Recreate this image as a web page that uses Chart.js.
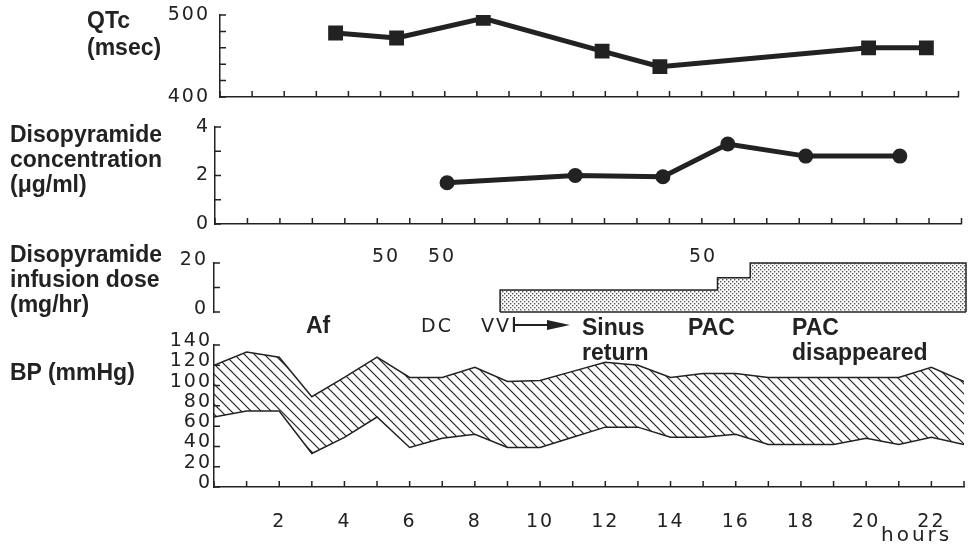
<!DOCTYPE html>
<html>
<head>
<meta charset="utf-8">
<script src="https://cdn.jsdelivr.net/npm/chart.js@4"></script>
<style>
body { margin: 0; background: #fff; }
#wrap { position: relative; width: 969px; height: 546px; overflow: hidden; font-family: "Liberation Sans", Arial, sans-serif; color: #222; }
canvas { position: absolute; left: 0; }
.lbl { position: absolute; font-weight: bold; font-size: 23px; line-height: 25px; white-space: nowrap; }
.num { position: absolute; font-family: "DejaVu Sans"; font-size: 19px; line-height: 24px; letter-spacing: 2px; white-space: nowrap; }
.arrow { position: absolute; left: 513px; top: 324px; width: 35px; height: 2px; background: #222; }
.arrow:before { content: ""; position: absolute; left: 0; top: -7px; width: 2px; height: 15px; background: #222; }
.arrow:after { content: ""; position: absolute; left: 34px; top: -4px; border-left: 23px solid #222; border-top: 5px solid transparent; border-bottom: 5px solid transparent; }
</style>
</head>
<body>
<div id="wrap">
  <canvas id="qtcChart" width="969" height="110" style="top:0px"></canvas>
  <canvas id="concChart" width="969" height="125" style="top:110px"></canvas>
  <canvas id="doseChart" width="969" height="75" style="top:245px"></canvas>
  <canvas id="bpChart" width="969" height="216" style="top:330px"></canvas>

  <div class="lbl" style="left:87px;top:7px;line-height:27px">QTc<br>(msec)</div>
  <div class="lbl" style="left:10px;top:122px">Disopyramide<br>concentration<br>(μg/ml)</div>
  <div class="lbl" style="left:10px;top:242px">Disopyramide<br>infusion dose<br>(mg/hr)</div>
  <div class="lbl" style="left:10px;top:360px">BP (mmHg)</div>

  <div class="num" style="left:372px;top:243px">50</div>
  <div class="num" style="left:428px;top:243px">50</div>
  <div class="num" style="left:689px;top:243px">50</div>

  <div class="lbl" style="left:306px;top:313px">Af</div>
  <div class="num" style="left:421px;top:313px">DC</div>
  <div class="num" style="left:481px;top:313px">VVI</div>
  <div class="arrow"></div>
  <div class="lbl" style="left:582px;top:315px">Sinus<br>return</div>
  <div class="lbl" style="left:688px;top:315px">PAC</div>
  <div class="lbl" style="left:792px;top:315px">PAC<br>disappeared</div>
  <div class="num" style="left:881px;top:522px;font-size:20px;letter-spacing:3px">hours</div>
</div>
<script>
const INK = "#222";

// QTc (msec)
const qtcHours = [3.6, 5.5, 8.2, 11.9, 13.7, 20.2, 22.0];
const qtcValues = [478, 472, 496, 456, 437, 460, 460];

// disopyramide concentration (ug/ml)
const concHours = [7.15, 11.1, 13.8, 15.8, 18.2, 21.1];
const concValues = [1.7, 2.0, 1.95, 3.3, 2.8, 2.8];

// infusion dose outline (mg/hr), stepped
const doseHours = [8.75, 8.75, 15.4, 16.4, 23, 23];
const doseValues = [0, 9, 14, 20, 20, 0];

// blood pressure, hourly
const bpHours = [0, 1, 2, 3, 4, 5, 6, 7, 8, 9, 10, 11, 12, 13, 14, 15, 16, 17, 18, 19, 20, 21, 22, 23];
const bpSystolic = [120, 133, 128, 89, 108, 128, 108, 108, 118, 104, 105, 114, 123, 120, 108, 112, 112, 108, 108, 108, 108, 108, 118, 104];
const bpDiastolic = [69, 75, 75, 33, 49, 69, 39, 48, 52, 39, 39, 49, 59, 59, 49, 49, 52, 42, 42, 42, 48, 42, 49, 42];

const qtcTickLabels = [400, 500];
const concTickLabels = [0, 2, 4];
const doseTickLabels = [0, 20];
const bpTickLabels = [0, 20, 40, 60, 80, 100, 120, 140];
const hourTickLabels = [2, 4, 6, 8, 10, 12, 14, 16, 18, 20, 22];

function toPoints(xs, ys) {
    return xs.map((x, i) => ({ x: x, y: ys[i] }));
}

function makeHatch() {
    const s = 10;
    const c = document.createElement("canvas");
    c.width = s; c.height = s;
    const g = c.getContext("2d");
    g.strokeStyle = INK;
    g.lineWidth = 1.2;
    g.beginPath();
    g.moveTo(0, 0); g.lineTo(s, s);
    g.moveTo(-1, s - 1); g.lineTo(1, s + 1);
    g.moveTo(s - 1, -1); g.lineTo(s + 1, 1);
    g.stroke();
    return g.createPattern(c, "repeat");
}

function makeDots() {
    const c = document.createElement("canvas");
    c.width = 4; c.height = 4;
    const g = c.getContext("2d");
    g.fillStyle = "#555";
    g.fillRect(0, 0, 1.4, 1.4);
    g.fillRect(2, 2, 1.4, 1.4);
    return g.createPattern(c, "repeat");
}

// ticks in the original point into the plot, so draw them by hand from the scales
const inwardTicks = {
    id: "inwardTicks",
    afterDraw(chart, args, opts) {
        const { ctx, chartArea: a, scales } = chart;
        ctx.save();
        ctx.strokeStyle = INK;
        ctx.lineWidth = 1.5;
        ctx.beginPath();
        if (opts.y) {
            scales.y.ticks.forEach((t, i) => {
                const p = scales.y.getPixelForTick(i);
                ctx.moveTo(a.left, p); ctx.lineTo(a.left + 6, p);
            });
        }
        if (opts.x) {
            scales.x.ticks.forEach((t, i) => {
                const p = scales.x.getPixelForTick(i);
                ctx.moveTo(p, a.bottom); ctx.lineTo(p, a.bottom - 6);
            });
        }
        ctx.stroke();
        ctx.restore();
    }
};

const spacedText = {
    id: "spacedText",
    beforeDraw(chart) { chart.ctx.letterSpacing = "2px"; }
};

// no extra room for overhanging tick labels, the panels sit close together
function noOverhang(axis) {
    axis.paddingTop = 0;
    axis.paddingBottom = 0;
    axis.paddingLeft = 0;
    axis.paddingRight = 0;
}

function panelOptions(cfg) {
    return {
        responsive: false,
        animation: false,
        devicePixelRatio: 1,
        layout: { padding: cfg.padding },
        plugins: {
            legend: { display: false },
            tooltip: { enabled: false },
            inwardTicks: { x: cfg.xTicks, y: true }
        },
        scales: {
            x: {
                type: "linear",
                display: cfg.xDisplay,
                min: 0, max: 23,
                grid: { display: false, drawTicks: false },
                border: { display: true, color: INK, width: 1.5 },
                ticks: {
                    stepSize: 1,
                    autoSkip: false,
                    maxRotation: 0,
                    display: cfg.xLabels,
                    padding: 24,
                    color: INK,
                    font: { family: "DejaVu Sans", size: 19 },
                    callback: v => hourTickLabels.includes(v) ? String(v) : ""
                },
                afterFit: axis => { axis.height = cfg.xHeight; noOverhang(axis); }
            },
            y: {
                min: cfg.yMin, max: cfg.yMax,
                grid: { display: false, drawTicks: false },
                border: { display: true, color: INK, width: 1.5 },
                ticks: {
                    stepSize: cfg.yStep,
                    autoSkip: false,
                    padding: cfg.yPad,
                    labelOffset: cfg.yOffset || 0,
                    color: INK,
                    font: { family: "DejaVu Sans", size: 19 },
                    callback: v => cfg.yLabels.includes(v) ? String(v) : ""
                },
                afterFit: axis => { axis.width = 60; noOverhang(axis); }
            }
        }
    };
}

new Chart(document.getElementById("qtcChart"), {
    type: "line",
    data: {
        datasets: [{
            data: toPoints(qtcHours, qtcValues),
            borderColor: INK, borderWidth: 5,
            pointStyle: "rect", pointRadius: 10.5,
            pointBackgroundColor: INK, pointBorderWidth: 0
        }]
    },
    options: panelOptions({
        padding: { left: 160, right: 1, top: 15, bottom: 13 },
        xDisplay: true, xTicks: true, xLabels: false, xHeight: 0,
        yMin: 400, yMax: 500, yStep: 20, yLabels: qtcTickLabels, yPad: 10
    }),
    plugins: [inwardTicks, spacedText]
});

new Chart(document.getElementById("concChart"), {
    type: "line",
    data: {
        datasets: [{
            data: toPoints(concHours, concValues),
            borderColor: INK, borderWidth: 5,
            pointStyle: "circle", pointRadius: 7.5,
            pointBackgroundColor: INK, pointBorderWidth: 0
        }]
    },
    options: panelOptions({
        padding: { left: 155, right: 4, top: 17, bottom: 11 },
        xDisplay: true, xTicks: true, xLabels: false, xHeight: 0,
        yMin: 0, yMax: 4, yStep: 1, yLabels: concTickLabels, yPad: 5
    }),
    plugins: [inwardTicks, spacedText]
});

new Chart(document.getElementById("doseChart"), {
    type: "line",
    data: {
        datasets: [{
            data: toPoints(doseHours, doseValues),
            stepped: "before",
            borderColor: INK, borderWidth: 1.5,
            pointRadius: 0,
            fill: "origin",
            backgroundColor: makeDots(),
            clip: false
        }, {
            // bottom edge of the dose box
            data: toPoints([doseHours[0], doseHours[doseHours.length - 1]], [0, 0]),
            borderColor: INK, borderWidth: 1.5,
            pointRadius: 0,
            fill: false,
            clip: false
        }]
    },
    options: panelOptions({
        padding: { left: 154, right: 3, top: 18, bottom: 8 },
        xDisplay: false, xTicks: false, xLabels: false, xHeight: 0,
        yMin: 0, yMax: 20, yStep: 10, yLabels: doseTickLabels, yPad: 6, yOffset: -3
    }),
    plugins: [inwardTicks, spacedText]
});

new Chart(document.getElementById("bpChart"), {
    type: "line",
    data: {
        datasets: [{
            data: toPoints(bpHours, bpSystolic),
            borderColor: INK, borderWidth: 1.5,
            pointRadius: 0,
            fill: "+1",
            backgroundColor: makeHatch()
        }, {
            data: toPoints(bpHours, bpDiastolic),
            borderColor: INK, borderWidth: 1.5,
            pointRadius: 0,
            fill: false
        }]
    },
    options: panelOptions({
        padding: { left: 154, right: 5, top: 15, bottom: 0 },
        xDisplay: true, xTicks: true, xLabels: true, xHeight: 59,
        yMin: 0, yMax: 140, yStep: 20, yLabels: bpTickLabels, yPad: 2, yOffset: -4
    }),
    plugins: [inwardTicks, spacedText]
});
</script>
</body>
</html>
